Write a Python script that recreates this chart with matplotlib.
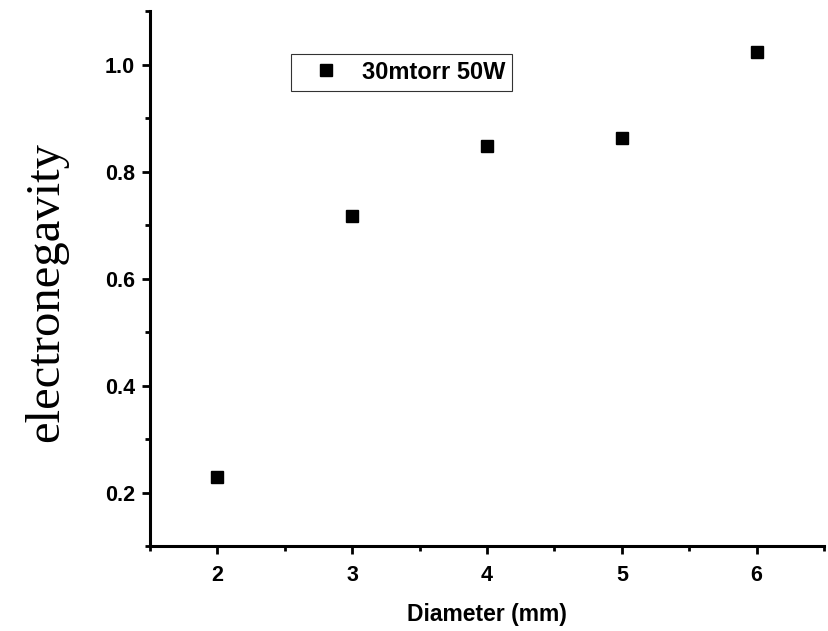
import matplotlib
matplotlib.use("Agg")
import matplotlib.pyplot as plt
from matplotlib.ticker import MultipleLocator

# Data
diameter = [2, 3, 4, 5, 6]
electroneg = [0.23, 0.718, 0.848, 0.863, 1.024]
series_label = "30mtorr 50W"

fig = plt.figure(figsize=(8.29, 6.31), dpi=100)
ax = fig.add_axes([0.181, 0.134, 0.813, 0.848])

ax.plot(diameter, electroneg, linestyle="none", marker="s", markersize=8.5,
        color="black", label=series_label)

ax.set_xlim(1.5, 6.5)
ax.set_ylim(0.1, 1.1)
ax.xaxis.set_major_locator(MultipleLocator(1))
ax.xaxis.set_minor_locator(MultipleLocator(0.5))
ax.yaxis.set_major_locator(MultipleLocator(0.2))
ax.yaxis.set_minor_locator(MultipleLocator(0.1))

for side in ("top", "right"):
    ax.spines[side].set_visible(False)
for side in ("left", "bottom"):
    ax.spines[side].set_linewidth(2.2)

ax.tick_params(which="major", direction="out", length=6, width=2)
ax.tick_params(axis="x", which="major", pad=7)
ax.tick_params(axis="y", which="major", pad=5)
ax.tick_params(which="minor", direction="out", length=3.5, width=2)
for lbl in ax.get_xticklabels() + ax.get_yticklabels():
    lbl.set_fontfamily("Liberation Sans")
    lbl.set_fontweight("bold")
    lbl.set_fontsize(15.5)

ax.set_xlabel("Diameter (mm)", fontfamily="Liberation Sans", fontweight="bold",
              fontsize=16.5)
ax.xaxis.set_label_coords(0.5, -0.105)
ax.set_ylabel("electronegavity", fontfamily="Liberation Serif", fontsize=35)
ax.yaxis.set_label_coords(-0.121, 0.476)

leg = ax.legend(loc="upper left", bbox_to_anchor=(0.209, 0.921), frameon=True,
                fancybox=False, edgecolor="black", handletextpad=0.3,
                handlelength=2.4, borderpad=0.3, borderaxespad=0,
                prop={"family": "Liberation Sans", "weight": "bold", "size": 17})
leg.get_frame().set_linewidth(0.8)

fig.savefig("out.png", dpi=100)
